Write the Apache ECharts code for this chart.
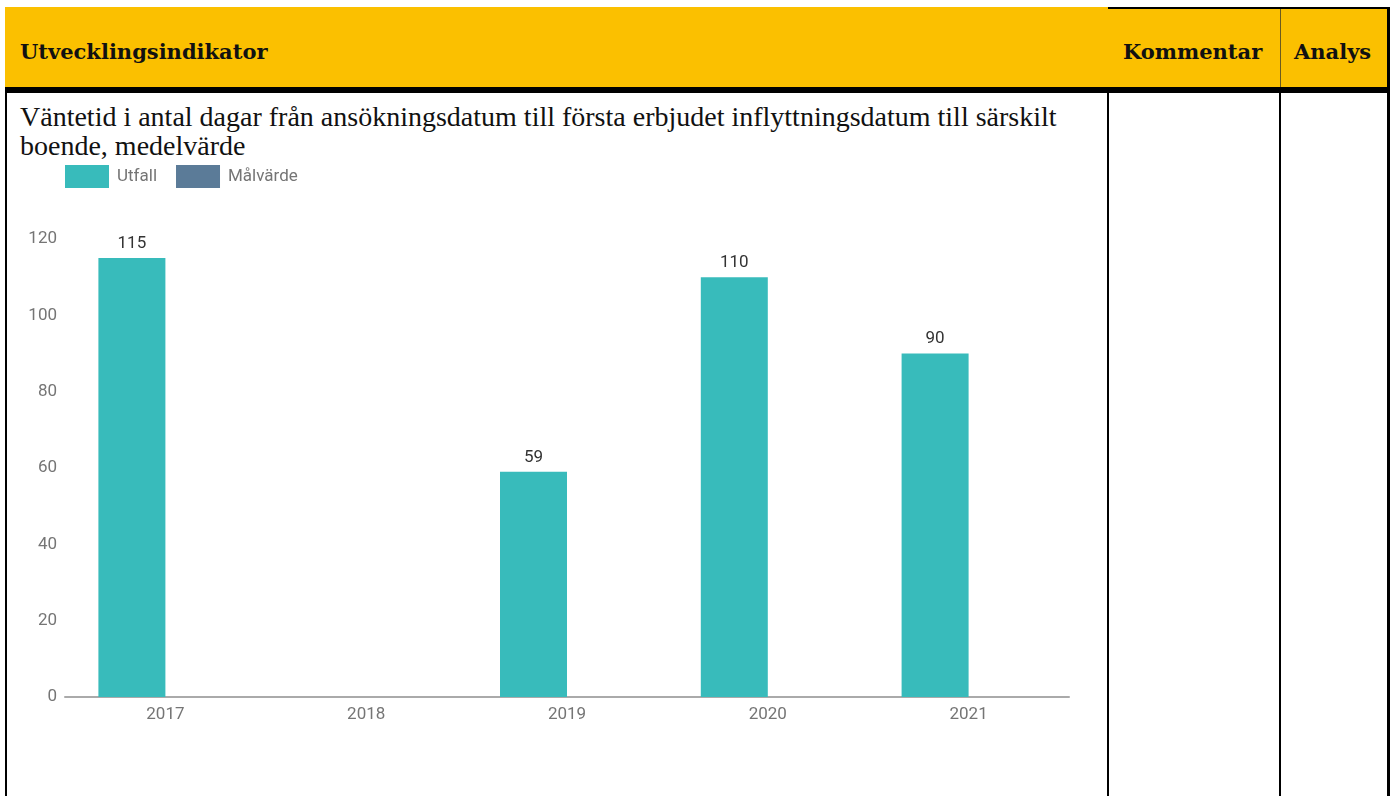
<!DOCTYPE html>
<html lang="sv">
<head>
<meta charset="utf-8">
<title>Utvecklingsindikator</title>
<script src="https://cdn.jsdelivr.net/npm/echarts@6/dist/echarts.min.js"></script>
<style>
  html, body { margin: 0; padding: 0; background: #fff; }
  #page { position: relative; width: 1396px; height: 796px; overflow: hidden; }
  .abs { position: absolute; }
  .yellow { background: #FBC000; }
  .black { background: #000; }
  .head { font-family: "DejaVu Serif", "Liberation Serif", serif; font-weight: bold; font-size: 21px; line-height: 24px; color: #111; white-space: nowrap; }
  .body { font-family: "Liberation Serif", "DejaVu Serif", serif; font-size: 28px; line-height: 29px; color: #111; }
  #chart { position: absolute; left: 0; top: 0; width: 1396px; height: 796px; }
</style>
</head>
<body>
<div id="page">
  <!-- header row -->
  <div class="abs yellow" style="left:5px;top:7px;width:1382px;height:80px;"></div>
  <div class="abs black" style="left:1108px;top:7px;width:282px;height:2px;"></div>
  <div class="abs" style="left:1280px;top:9px;width:1px;height:78px;background:#6b5b20;"></div>
  <div class="abs black" style="left:5px;top:87px;width:1385px;height:6px;"></div>
  <!-- column borders -->
  <div class="abs black" style="left:5px;top:93px;width:2px;height:703px;"></div>
  <div class="abs black" style="left:1107px;top:93px;width:2px;height:703px;"></div>
  <div class="abs black" style="left:1279px;top:93px;width:2px;height:703px;"></div>
  <div class="abs black" style="left:1387px;top:7px;width:3px;height:789px;"></div>

  <div class="abs head" style="left:20px;top:40px;">Utvecklingsindikator</div>
  <div class="abs head" style="left:1123px;top:40px;">Kommentar</div>
  <div class="abs head" style="left:1294px;top:40px;">Analys</div>

  <div class="abs body" style="left:20px;top:102px;width:1080px;">Väntetid i antal dagar från ansökningsdatum till första erbjudet inflyttningsdatum till särskilt boende, medelvärde</div>

  <div id="chart"></div>
</div>
<script>
// Years on the category axis
const years = ['2017', '2018', '2019', '2020', '2021'];
// Outcome per year (no value reported for 2018)
const utfall = [115, null, 59, 110, 90];
// Target values (none reported)
const malvarde = [null, null, null, null, null];
// Value axis ticks
const yMin = 0;
const yMax = 120;
const yStep = 20;

const chart = echarts.init(document.getElementById('chart'), null, { renderer: 'canvas' });
const axisText = { color: '#757575', fontSize: 17, fontFamily: 'Roboto' };
const valueLabel = { show: true, position: 'top', distance: 6, color: '#333333', fontSize: 17, fontFamily: 'Roboto' };

chart.setOption({
  backgroundColor: 'transparent',
  animation: false,
  textStyle: { fontFamily: 'Roboto' },
  legend: {
    left: 60,
    top: 160,
    icon: 'rect',
    itemWidth: 44,
    itemHeight: 23,
    itemGap: 19,
    textStyle: { color: '#757575', fontSize: 17, fontFamily: 'Roboto', padding: [0, 0, 0, 3] },
    data: ['Utfall', 'Målvärde']
  },
  grid: { left: 65, right: 327, top: 239, bottom: 99, containLabel: false },
  xAxis: {
    type: 'category',
    data: years,
    axisLine: { lineStyle: { color: '#aaaaaa', width: 2 } },
    axisTick: { show: false },
    axisLabel: Object.assign({ margin: 9 }, axisText)
  },
  yAxis: {
    type: 'value',
    min: yMin,
    max: yMax,
    interval: yStep,
    axisLine: { show: false },
    axisTick: { show: false },
    splitLine: { show: false },
    axisLabel: Object.assign({ margin: 8 }, axisText)
  },
  series: [
    {
      name: 'Utfall',
      type: 'bar',
      data: utfall,
      barWidth: 67,
      barGap: '0%',
      itemStyle: { color: '#38BBBB' },
      label: valueLabel
    },
    {
      name: 'Målvärde',
      type: 'bar',
      data: malvarde,
      barWidth: 67,
      barGap: '0%',
      itemStyle: { color: '#5B7B98' },
      label: valueLabel
    }
  ]
});
</script>
</body>
</html>
